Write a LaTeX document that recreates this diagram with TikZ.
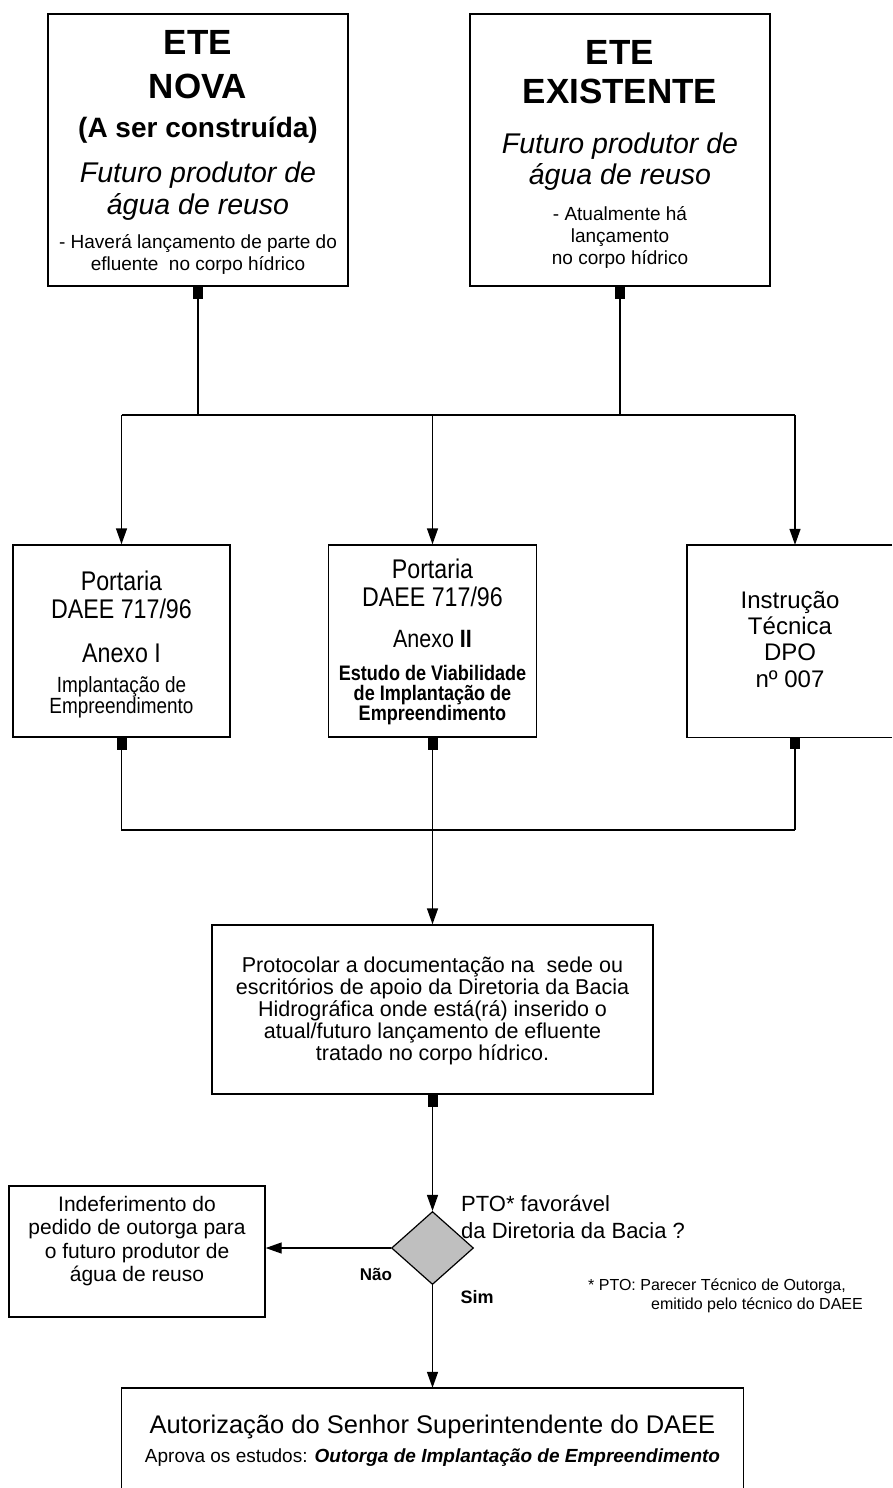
\documentclass[tikz,border=0pt]{standalone}
\usepackage{fontspec}
\setmainfont{Liberation Sans}
\newfontfamily\narrowf[FakeStretch=0.86]{Liberation Sans}
\usetikzlibrary{arrows.meta,shapes.geometric}
\newcommand\myfs[1]{\fontsize{#1}{#1}\selectfont}
\begin{document}
\begin{tikzpicture}[x=1pt,y=-1pt,
  box/.style={draw, line width=1.4pt, inner sep=0pt},
  openbox/.style={inner sep=0pt},
  tx/.style={anchor=base, inner sep=0pt},
  tl/.style={anchor=base west, inner sep=0pt},
  tr/.style={anchor=base east, inner sep=0pt},
  link/.style={line width=1.4pt},
  sqlink/.style={line width=1.4pt, {Square[length=12pt,width=10pt]}-},
  sqarr/.style={line width=1.4pt, {Square[length=12pt,width=10pt]}-{Triangle[length=16pt,width=11pt]}},
  arr/.style={line width=1.4pt, -{Triangle[length=16pt,width=11pt]}},
  big/.style={font=\bfseries\myfs{35}},
  ital/.style={font=\itshape\myfs{28.5}},
  nar/.style={font=\narrowf\myfs{27}},
  narsm/.style={font=\narrowf\myfs{22}},
  narbf/.style={font=\narrowf\bfseries\myfs{21}},
]
\useasboundingbox[fill=white] (0,0) rectangle (892,1488);
\coordinate (edge) at (892,0);
\coordinate (topbar) at (0,415);
\coordinate (botbar) at (0,830);

% boxes
\node[box, minimum width=300pt, minimum height=272pt] (nova) at (198,150) {};
\node[box, minimum width=300pt, minimum height=272pt] (exist) at (620,150) {};
\node[box, minimum width=217pt, minimum height=192pt] (port1) at (121.5,641) {};
\node[box, minimum width=208pt, minimum height=192pt] (port2) at (432.5,641) {};
\node[openbox, minimum width=216pt, minimum height=192pt] (instr) at (795,641) {};
\draw[link] (edge |- instr.north) -- (instr.north west) -- (instr.south west) -- (edge |- instr.south);
\node[box, minimum width=441pt, minimum height=169pt] (prot) at (432.5,1009.5) {};
\node[diamond, draw, line width=1.2pt, fill=gray!50, minimum width=82pt, minimum height=73pt, inner sep=0pt] (dia) at (432.5,1248) {};
\node[box, minimum width=256pt, minimum height=131pt] (inde) at (137,1251.5) {};
\node[openbox, minimum width=622pt, minimum height=100pt] (final) at (432.5,1438) {};
\draw[link] (final.south west) -- (final.north west) -- (final.north east) -- (final.south east);

% texts: ETE NOVA
\node[tx, big] (n1) at (198,55) {ETE};
\node[tx, big] (n2) at (198,99) {NOVA};
\node[tx, font=\bfseries\myfs{28}] (n3) at (198,137) {(A ser construída)};
\node[tx, ital] (n4) at (198,182) {Futuro produtor de};
\node[tx, ital] (n5) at (198,214) {água de reuso};
\node[tx, font=\myfs{19}] (n6) at (198,248) {- Haverá lançamento de parte do};
\node[tx, font=\myfs{19}] (n7) at (198,270) {efluente~ no corpo hídrico};

% ETE EXISTENTE
\node[tx, big] (e1) at (620,65) {ETE};
\node[tx, big] (e2) at (620,103) {EXISTENTE};
\node[tx, ital] (e3) at (620,153) {Futuro produtor de};
\node[tx, ital] (e4) at (620,184) {água de reuso};
\node[tx, font=\myfs{19}] (e5) at (620,220) {- Atualmente há};
\node[tx, font=\myfs{19}] (e6) at (620,242) {lançamento};
\node[tx, font=\myfs{19}] (e7) at (620,264) {no corpo hídrico};

% Portaria Anexo I
\node[tx, nar] (p1) at (121.5,590) {Portaria};
\node[tx, nar] (p2) at (121.5,618) {DAEE 717/96};
\node[tx, nar] (p3) at (121.5,662) {Anexo I};
\node[tx, narsm] (p4) at (121.5,692) {Implantação de};
\node[tx, narsm] (p5) at (121.5,713) {Empreendimento};

% Portaria Anexo II
\node[tx, nar] (q1) at (432.5,578) {Portaria};
\node[tx, nar] (q2) at (432.5,606) {DAEE 717/96};
\node[tx, font=\narrowf\myfs{25}] (q3) at (432.5,647) {Anexo \textbf{II}};
\node[tx, narbf] (q4) at (432.5,680) {Estudo de Viabilidade};
\node[tx, narbf] (q5) at (432.5,700) {de Implantação de};
\node[tx, narbf] (q6) at (432.5,720) {Empreendimento};

% Instrucao
\node[tx, font=\myfs{24}] (i1) at (790,608) {Instrução};
\node[tx, font=\myfs{24}] (i2) at (790,634) {Técnica};
\node[tx, font=\myfs{24}] (i3) at (790,660) {DPO};
\node[tx, font=\myfs{24}] (i4) at (790,687) {nº 007};

% Protocolar
\node[tx, font=\myfs{21.5}] (r1) at (432.5,972) {Protocolar a documentação na~ sede ou};
\node[tx, font=\myfs{21.5}] (r2) at (432.5,994) {escritórios de apoio da Diretoria da Bacia};
\node[tx, font=\myfs{21.5}] (r3) at (432.5,1016) {Hidrográfica onde está(rá) inserido o};
\node[tx, font=\myfs{21.5}] (r4) at (432.5,1038) {atual/futuro lançamento de efluente};
\node[tx, font=\myfs{21.5}] (r5) at (432.5,1060) {tratado no corpo hídrico.};

% Indeferimento
\node[tx, font=\myfs{21}] (d1) at (137,1211) {Indeferimento do};
\node[tx, font=\myfs{21}] (d2) at (137,1234) {pedido de outorga para};
\node[tx, font=\myfs{21}] (d3) at (137,1258) {o futuro produtor de};
\node[tx, font=\myfs{21}] (d4) at (137,1281) {água de reuso};

% decision labels
\node[tl, font=\myfs{22}] (pto1) at (461,1211) {PTO* favorável};
\node[tl, font=\myfs{22}] (pto2) at (461,1238) {da Diretoria da Bacia ?};
\node[tx, font=\bfseries\myfs{17}] (nao) at (376,1280) {Não};
\node[tx, font=\bfseries\myfs{18}] (sim) at (477,1303) {Sim};
\node[tl, font=\myfs{16}] (fn1) at (588,1290) {* PTO: Parecer Técnico de Outorga,};
\node[tr, font=\myfs{16}] (fn2) at (863,1309) {emitido pelo técnico do DAEE};

% final
\node[tx, font=\myfs{25.5}] (f1) at (432.5,1433) {Autorização do Senhor Superintendente do DAEE};
\node[tx, font=\myfs{19}] (f2) at (432.5,1462) {Aprova os estudos: \textbf{\textit{Outorga de Implantação de Empreendimento}}};

% connectors
\draw[sqlink] (nova.south) -- (nova.south |- topbar);
\draw[sqlink] (exist.south) -- (exist.south |- topbar);
\draw[link] (port1.north |- topbar) -- (instr.north |- topbar);
\draw[arr] (port1.north |- topbar) -- (port1.north);
\draw[arr] (port2.north |- topbar) -- (port2.north);
\draw[arr] (instr.north |- topbar) -- (instr.north);
\draw[sqlink] (port1.south) -- (port1.south |- botbar) -- (instr.south |- botbar);
\draw[sqlink] (instr.south) -- (instr.south |- botbar);
\draw[sqarr] (port2.south) -- (prot.north);
\draw[sqarr] (prot.south) -- (dia.north);
\draw[arr] (dia.west) -- (inde.east |- dia.west);
\draw[arr] (dia.south) -- (final.north);
\end{tikzpicture}
\end{document}
